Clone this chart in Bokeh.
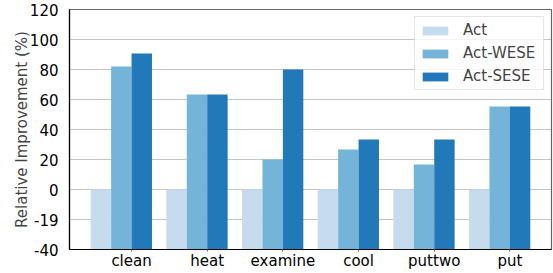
from bokeh.plotting import figure
from bokeh.models import FixedTicker, Range1d, Legend, LegendItem
from bokeh.embed import file_html
from bokeh.resources import INLINE

categories = ["clean", "heat", "examine", "cool", "puttwo", "put"]
act = [0, 0, 0, 0, 0, 0]
act_wese = [82, 63.3, 20, 26.7, 16.7, 55.3]
act_sese = [90.7, 63.3, 80, 33.3, 33.3, 55.3]
y_ticks = [-40, -20, 0, 20, 40, 60, 80, 100, 120]
y_tick_labels = ["-40", "-19", "0", "20", "40", "60", "80", "100", "120"]
series_names = ["Act", "Act-WESE", "Act-SESE"]
colors = ["#c6dcee", "#75b4d9", "#2279b9"]

W = 0.27
FONT = "DejaVu Sans"
FS = "15px"

p = figure(width=553, height=273, output_backend="svg", toolbar_location=None,
           x_range=Range1d(-0.82, 5.55), y_range=Range1d(-40, 120),
           min_border_left=69, min_border_right=2, min_border_top=9, min_border_bottom=24)

xs = list(range(len(categories)))
renderers = []
for k, (vals, col) in enumerate(zip([act, act_wese, act_sese], colors)):
    off = (k - 1.5) * W
    r = p.vbar(x=[x + off for x in xs], top=vals, bottom=-40, width=W,
               fill_color=col, line_color=None)
    renderers.append(r)

p.xaxis.ticker = FixedTicker(ticks=xs)
p.xaxis.major_label_overrides = {i: c for i, c in enumerate(categories)}
p.yaxis.ticker = FixedTicker(ticks=y_ticks)
p.yaxis.major_label_overrides = {t: l for t, l in zip(y_ticks, y_tick_labels)}

for ax in (p.xaxis, p.yaxis):
    ax.axis_line_color = "black"
    ax.axis_line_width = 1.2
    ax.minor_tick_line_color = None
    ax.major_label_text_font = FONT
    ax.major_label_text_font_size = FS
    ax.major_label_text_color = "black"
p.yaxis.major_tick_line_color = None
p.yaxis.major_label_standoff = 5
p.xaxis.major_tick_in = 0
p.xaxis.major_tick_out = 2
p.xaxis.major_tick_line_color = "#666666"
p.xaxis.major_label_standoff = 0
p.yaxis.axis_label = "Relative Improvement (%)"
p.yaxis.axis_label_text_font = FONT
p.yaxis.axis_label_text_font_size = FS
p.yaxis.axis_label_text_font_style = "normal"
p.yaxis.axis_label_standoff = -4

p.xgrid.grid_line_color = None
p.ygrid.grid_line_color = "#888888"
p.ygrid.grid_line_dash = "1 1"
p.ygrid.grid_line_width = 1

p.outline_line_color = "#666666"
p.outline_line_width = 1.2

legend = Legend(items=[LegendItem(label=n, renderers=[r]) for n, r in zip(series_names, renderers)],
                location="top_right")
legend.margin = 7
legend.padding = 4
legend.glyph_width = 32
legend.glyph_height = 11
legend.label_height = 18
legend.label_width = 76
legend.spacing = 5
legend.label_standoff = 12
legend.label_text_font = FONT
legend.label_text_font_size = FS
legend.border_line_color = "#cccccc"
legend.background_fill_alpha = 0.8
p.add_layout(legend)

open("out.html", "w").write(file_html(p, INLINE))
